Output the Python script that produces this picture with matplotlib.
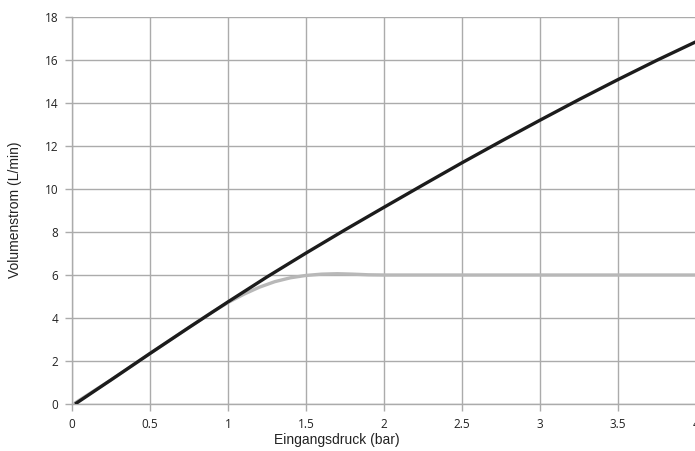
import matplotlib.pyplot as plt

# Eingangsdruck (bar) und Volumenstrom (L/min)
druck_ohne = [0.02, 0.25, 0.5, 0.75, 1.0, 1.25, 1.5, 1.75, 2.0, 2.25, 2.5, 2.75, 3.0, 3.25, 3.5, 3.75, 4.0]
strom_ohne = [0.0, 1.12, 2.35, 3.56, 4.75, 5.91, 7.02, 8.1, 9.15, 10.19, 11.22, 12.22, 13.2, 14.16, 15.09, 15.99, 16.85]

druck_regler = [0.02, 0.25, 0.5, 0.75, 0.9, 1.0, 1.1, 1.2, 1.3, 1.4, 1.5, 1.6, 1.7, 1.8, 1.9, 2.0, 2.5, 3.0, 3.5, 4.0]
strom_regler = [0.05, 1.12, 2.35, 3.56, 4.28, 4.72, 5.1, 5.43, 5.69, 5.87, 5.98, 6.04, 6.06, 6.04, 6.01, 6.0, 6.0, 6.0, 6.0, 6.0]

x_ticks = [0, 0.5, 1, 1.5, 2, 2.5, 3, 3.5, 4]
x_labels = ["0", "0.5", "1", "1.5", "2", "2.5", "3", "3.5", "4"]
y_ticks = [0, 2, 4, 6, 8, 10, 12, 14, 16, 18]

W, H = 695, 451
fig = plt.figure(figsize=(W / 100, H / 100), dpi=100)
ax = fig.add_axes([72 / W, 47 / H, 624 / W, 387 / H])

grid_col = "#ababab"
ax.plot(druck_regler, strom_regler, color="#b8b8b8", lw=2.4, solid_capstyle="round", zorder=3)
ax.plot(druck_ohne, strom_ohne, color="#1c1c1c", lw=2.4, solid_capstyle="butt", zorder=4)

ax.set_xlim(0, 4)
ax.set_ylim(0, 18)
ax.set_xticks(x_ticks)
ax.set_xticklabels(x_labels)
ax.set_yticks(y_ticks)
ax.grid(True, color=grid_col, lw=1.0)
ax.set_axisbelow(True)

for s in ["top", "right"]:
    ax.spines[s].set_visible(False)
for s in ["left", "bottom"]:
    ax.spines[s].set_color(grid_col)
    ax.spines[s].set_linewidth(1.0)

ax.tick_params(direction="out", length=5, width=1.0, color=grid_col,
               labelsize=8.5, labelcolor="#222222", pad=5)
for lab in ax.get_xticklabels() + ax.get_yticklabels():
    lab.set_fontfamily("Open Sans")

fig.text(337 / W, 1 - 440 / H, "Eingangsdruck (bar)", ha="center", va="center",
         fontsize=10, family="Liberation Sans", color="#222222")
fig.text(15 / W, 1 - 210 / H, "Volumenstrom (L/min)", ha="center", va="center",
         rotation=90, fontsize=10, family="Liberation Sans", color="#222222")

fig.savefig("out.png", dpi=100)
